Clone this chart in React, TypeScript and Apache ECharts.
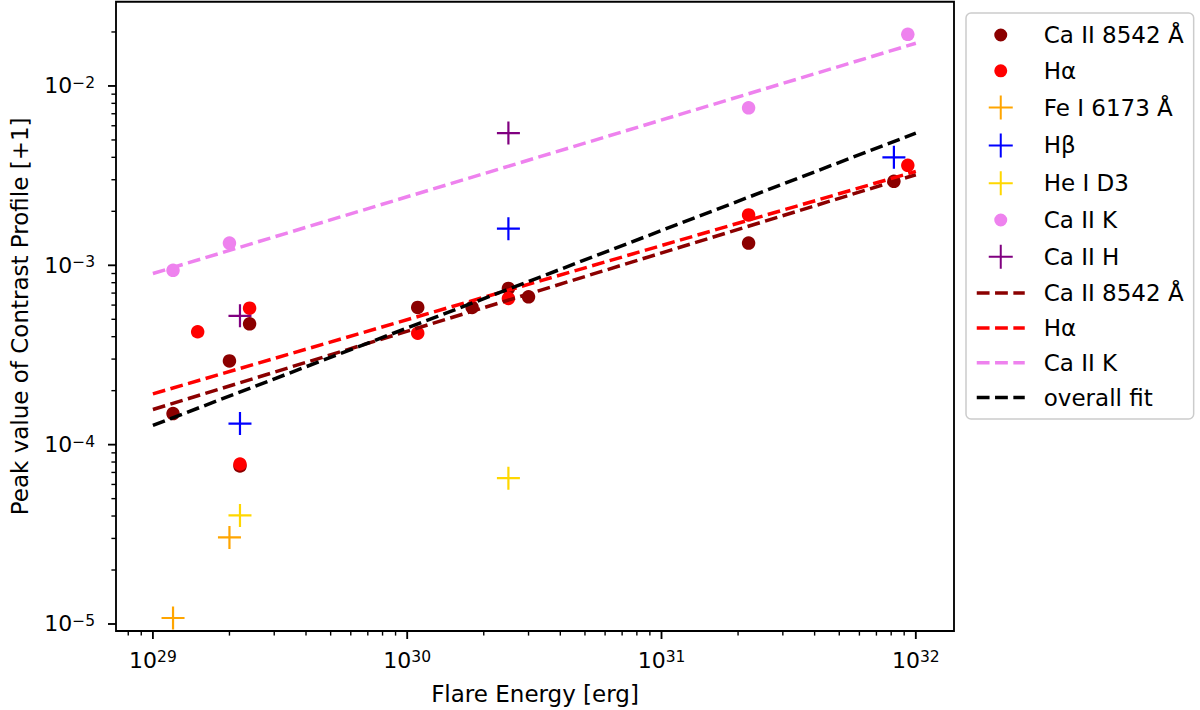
import { useEffect, useRef } from 'react';
import * as echarts from 'echarts';

// ---- data (flare energy [erg], peak contrast) ----
const CA8542_E = [1.2e29, 2.0e29, 2.4e29, 2.2e29, 1.1e30, 1.8e30, 2.5e30, 3.0e30, 2.2e31, 8.2e31];
const CA8542_V = [1.49e-4, 2.93e-4, 4.72e-4, 7.6e-5, 5.82e-4, 5.82e-4, 7.43e-4, 6.67e-4, 1.33e-3, 2.94e-3];

const HA_E = [1.5e29, 2.4e29, 2.2e29, 1.1e30, 2.5e30, 2.2e31, 9.3e31];
const HA_V = [4.26e-4, 5.77e-4, 7.8e-5, 4.18e-4, 6.53e-4, 1.91e-3, 3.61e-3];

const FE_E = [1.2e29, 2.0e29];
const FE_V = [1.08e-5, 3.04e-5];

const HB_E = [2.2e29, 2.5e30, 8.2e31];
const HB_V = [1.31e-4, 1.6e-3, 4.0e-3];

const HE_E = [2.2e29, 2.5e30];
const HE_V = [4.03e-5, 6.5e-5];

const CAK_E = [1.2e29, 2.0e29, 2.2e31, 9.3e31];
const CAK_V = [9.38e-4, 1.33e-3, 7.55e-3, 1.94e-2];

const CAH_E = [2.2e29, 2.5e30];
const CAH_V = [5.23e-4, 5.46e-3];

// fit lines (values at the two ends)
const FIT_E = [1e29, 1e32];
const FIT_CA8542 = [1.57e-4, 3.2e-3];
const FIT_HA = [1.92e-4, 3.34e-3];
const FIT_CAK = [9.0e-4, 1.73e-2];
const FIT_ALL = [1.28e-4, 5.46e-3];

// axes
const X_MIN = 7.16e28;
const X_MAX = 1.413e32;
const Y_MIN = 9.14e-6;
const Y_MAX = 2.95e-2;
const X_MAJOR = [1e29, 1e30, 1e31, 1e32];
const Y_MAJOR = [1e-5, 1e-4, 1e-3, 1e-2];
const X_DECADES = [1e28, 1e29, 1e30, 1e31, 1e32];
const Y_DECADES = [1e-6, 1e-5, 1e-4, 1e-3, 1e-2];
const MINOR_MULT = [2, 3, 4, 5, 6, 7, 8, 9];

const FONT = 'DejaVu Sans';
const PLUS = 'path://M-12,0L12,0M0,-12L0,12';
const CIRCLE_ICON = 'path://M-12,-12M12,12M6.5,0A6.5,6.5,0,1,1,-6.5,0A6.5,6.5,0,1,1,6.5,0Z';

const pair = (xs: number[], ys: number[]) => xs.map((x, i) => [x, ys[i]]);

function minorTicks(decades: number[], lo: number, hi: number) {
  const out: number[] = [];
  decades.forEach((d) => MINOR_MULT.forEach((m) => {
    const v = d * m;
    if (v > lo && v < hi) out.push(v);
  }));
  return out;
}

function supLabel(v: number) {
  const l = Math.log10(v);
  const e = Math.round(l);
  if (Math.abs(l - e) > 1e-6) return '';
  return '10{sup|' + (e < 0 ? '\u2212' + -e : String(e)) + '}';
}

function tickSeries(values: number[], axis: 'x' | 'y', len: number, width: number) {
  return {
    type: 'custom',
    silent: true,
    clip: false,
    z: 10,
    data: values.map((v) => (axis === 'x' ? [v, Y_MIN] : [X_MIN, v])),
    renderItem: (_p: any, api: any) => {
      const p = api.coord([api.value(0), api.value(1)]);
      const shape = axis === 'x'
        ? { x1: p[0], y1: p[1], x2: p[0], y2: p[1] + len }
        : { x1: p[0] - len, y1: p[1], x2: p[0], y2: p[1] };
      return { type: 'line', shape, style: { stroke: '#000', lineWidth: width } };
    },
  };
}

function dotSeries(name: string, xs: number[], ys: number[], color: string) {
  return {
    type: 'scatter', name, data: pair(xs, ys), symbol: 'circle', symbolSize: 13.5,
    itemStyle: { color, opacity: 1 }, silent: true, z: 2,
  };
}

function plusSeries(name: string, xs: number[], ys: number[], color: string) {
  return {
    type: 'scatter', name, data: pair(xs, ys), symbol: PLUS, symbolSize: 23,
    itemStyle: { color, borderColor: color, borderWidth: 2.2, opacity: 1 }, silent: true, z: 2,
  };
}

function fitSeries(name: string, ys: number[], color: string) {
  return {
    type: 'line', name, data: pair(FIT_E, ys), symbol: 'circle', showSymbol: false, silent: true, z: 3,
    color,
    itemStyle: { color },
    lineStyle: { color, width: 3.5, type: [12.8, 5.5] },
  };
}

const axisLabelBase = {
  formatter: supLabel,
  fontSize: 22,
  lineHeight: 22,
  fontFamily: FONT,
  color: '#000',
  showMinLabel: false,
  showMaxLabel: false,
  rich: { sup: { fontSize: 15.5, lineHeight: 12, verticalAlign: 'top', fontFamily: FONT, color: '#000' } },
};

const hiddenSymbol = { itemStyle: { opacity: 0 } };

export default function App() {
  const ref = useRef<HTMLDivElement>(null);
  useEffect(() => {
    document.body.style.margin = '0';
    const chart = echarts.init(ref.current!, undefined, { renderer: 'svg' });
    chart.setOption({
      animation: false,
      backgroundColor: '#fff',
      textStyle: { fontFamily: FONT },
      grid: {
        show: true, left: 106.7, right: 246, top: 1.7, bottom: 77,
        borderColor: '#000', borderWidth: 1.85, backgroundColor: 'transparent',
      },
      xAxis: {
        type: 'log', logBase: 10, min: X_MIN, max: X_MAX,
        axisLine: { show: false }, axisTick: { show: false }, splitLine: { show: false },
        axisLabel: { ...axisLabelBase, margin: 18 },
        name: 'Flare Energy [erg]', nameLocation: 'middle', nameGap: 51,
        nameTextStyle: { fontSize: 23, fontFamily: FONT, color: '#000' },
      },
      yAxis: {
        type: 'log', logBase: 10, min: Y_MIN, max: Y_MAX,
        axisLine: { show: false }, axisTick: { show: false }, splitLine: { show: false },
        axisLabel: { ...axisLabelBase, margin: 21 },
        name: 'Peak value of Contrast Profile [+1]', nameLocation: 'middle', nameGap: 85, nameRotate: 90,
        nameTextStyle: { fontSize: 23, fontFamily: FONT, color: '#000' },
      },
      legend: {
        orient: 'vertical', left: 966, top: 13,
        itemWidth: 48, itemHeight: 24, itemGap: 11.8,
        padding: [10, 10, 10, 9],
        backgroundColor: 'rgba(255,255,255,0.8)', borderColor: '#cccccc', borderWidth: 1.5, borderRadius: 5,
        symbolKeepAspect: true,
        selectedMode: false,
        textStyle: { fontSize: 23, fontFamily: FONT, color: '#000', padding: [0, 0, 0, 14] },
        lineStyle: { width: 3.5 },
        formatter: (n: string) => n.replace(/^fit:/, ''),
        data: [
          { name: 'Ca II 8542 Å', icon: CIRCLE_ICON },
          { name: 'Hα', icon: CIRCLE_ICON },
          { name: 'Fe I 6173 Å' },
          { name: 'Hβ' },
          { name: 'He I D3' },
          { name: 'Ca II K', icon: CIRCLE_ICON },
          { name: 'Ca II H' },
          { name: 'fit:Ca II 8542 Å', ...hiddenSymbol },
          { name: 'fit:Hα', ...hiddenSymbol },
          { name: 'fit:Ca II K', ...hiddenSymbol },
          { name: 'overall fit', ...hiddenSymbol },
        ],
      },
      series: [
        dotSeries('Ca II 8542 Å', CA8542_E, CA8542_V, '#8b0000'),
        dotSeries('Hα', HA_E, HA_V, '#ff0000'),
        plusSeries('Fe I 6173 Å', FE_E, FE_V, '#ffa500'),
        plusSeries('Hβ', HB_E, HB_V, '#0000ff'),
        plusSeries('He I D3', HE_E, HE_V, '#ffd700'),
        dotSeries('Ca II K', CAK_E, CAK_V, '#ee82ee'),
        plusSeries('Ca II H', CAH_E, CAH_V, '#800080'),
        fitSeries('fit:Ca II 8542 Å', FIT_CA8542, '#8b0000'),
        fitSeries('fit:Hα', FIT_HA, '#ff0000'),
        fitSeries('fit:Ca II K', FIT_CAK, '#ee82ee'),
        fitSeries('overall fit', FIT_ALL, '#000000'),
        tickSeries(X_MAJOR, 'x', 8, 1.85),
        tickSeries(minorTicks(X_DECADES, X_MIN, X_MAX), 'x', 4.6, 1.4),
        tickSeries(Y_MAJOR, 'y', 8, 1.85),
        tickSeries(minorTicks(Y_DECADES, Y_MIN, Y_MAX), 'y', 4.6, 1.4),
      ],
    });
    return () => chart.dispose();
  }, []);
  return <div ref={ref} style={{ position: 'fixed', left: 0, top: 0, width: 1200, height: 710 }} />;
}
